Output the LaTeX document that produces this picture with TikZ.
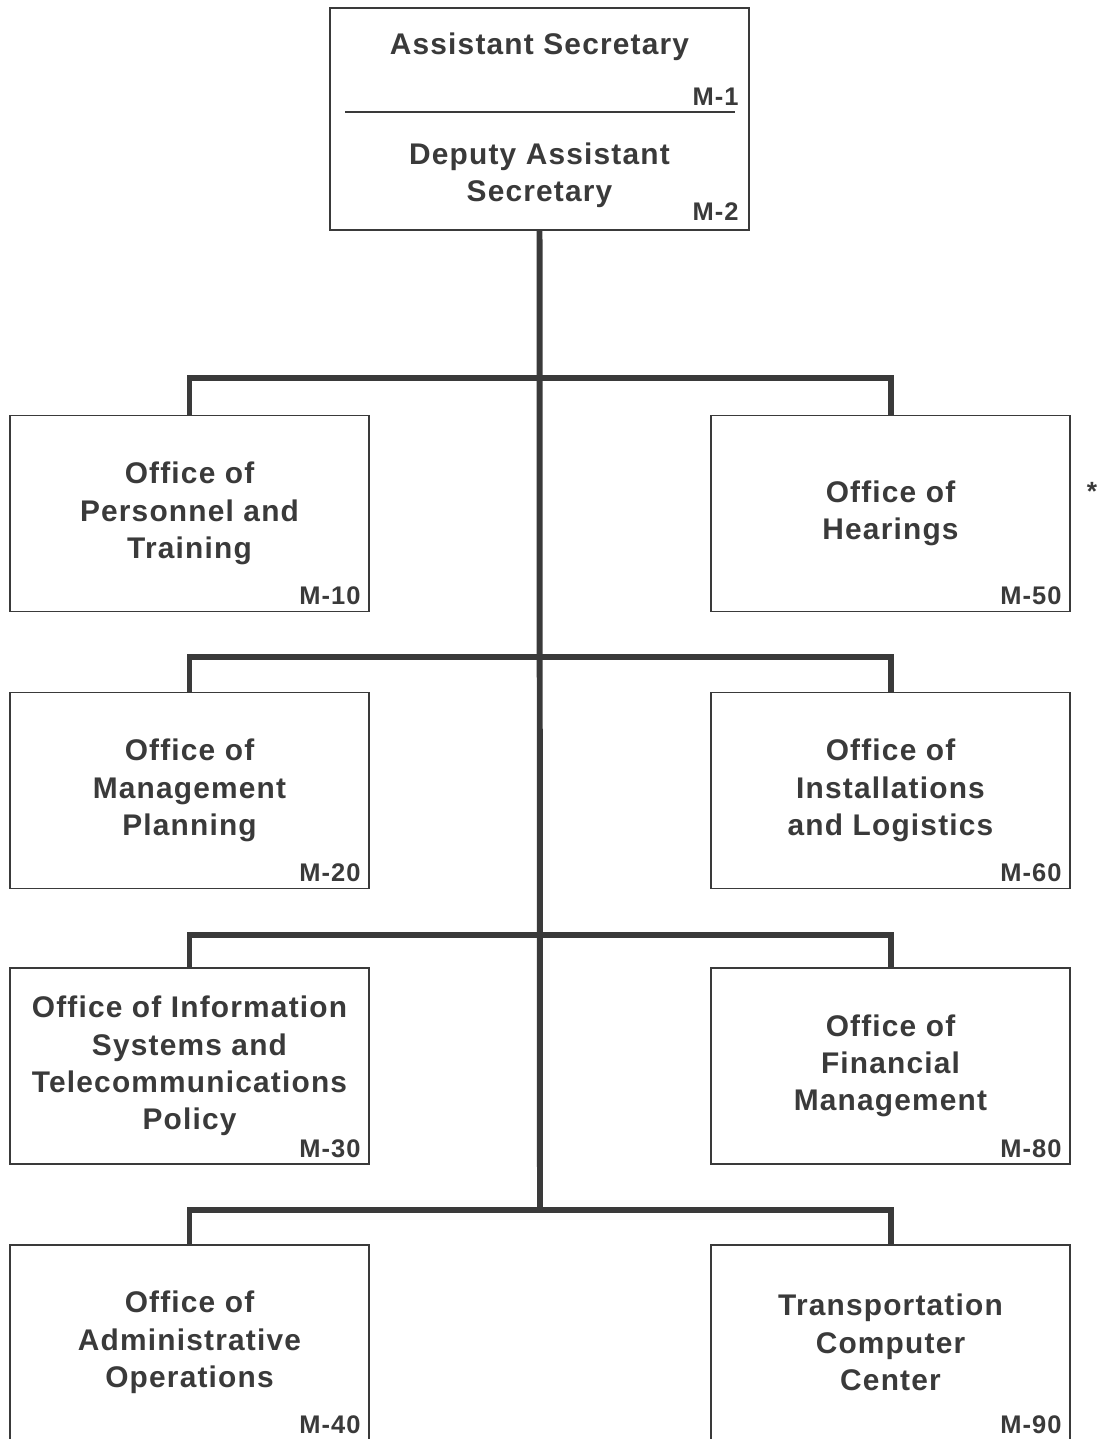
\documentclass[tikz,border=0pt]{standalone}
\usepackage{fontspec}
\setmainfont{Liberation Sans}[LetterSpace=4]
\definecolor{ink}{HTML}{3A3A3A}
\tikzset{
  office/.style={draw=ink,line width=1.1pt,minimum width=7.18cm,minimum height=3.92cm,
    align=center,text=ink,font=\fontsize{17}{21.2}\selectfont\bfseries},
  code/.style={anchor=south east,inner sep=0pt,text=ink,font=\fontsize{14.5}{16}\selectfont\bfseries},
  trunk/.style={draw=ink,line width=3.4pt}
}
\begin{document}
\begin{tikzpicture}[x=0.02cm,y=-0.02cm]
\useasboundingbox (0,0) rectangle (1098,1439);
\clip (0,0) rectangle (1098,1439);
% head of the office
\node[draw=ink,line width=1.1pt,minimum width=8.38cm,minimum height=4.44cm] (m1) at (539.5,119){};
\node[text=ink,font=\fontsize{17}{21.2}\selectfont\bfseries] (as) at (539.5,47){Assistant Secretary};
\node[text=ink,font=\fontsize{17}{21.2}\selectfont\bfseries,align=center] (das) at (539.5,175){Deputy Assistant\\Secretary};
\draw[ink,line width=1.1pt] (345,112)--(735,112);
\node[code] (c1) at (739,106){M-1};
\node[code] (c2) at (739,221){M-2};
% offices, left and right
\node[office] (m10) at (189.5,513.5){Office of\\Personnel and\\Training};
\node[office] (m50) at (890.5,513.5){Office of\\Hearings};
\node[office] (m20) at (189.5,790.5){Office of\\Management\\Planning};
\node[office] (m60) at (890.5,790.5){Office of\\Installations\\and Logistics};
\node[office] (m30) at (189.5,1066){Office of Information\\Systems and\\Telecommunications\\Policy};
\node[office] (m80) at (890.5,1066){Office of\\Financial\\Management};
\node[office] (m40) at (189.5,1342.5){Office of\\Administrative\\Operations};
\node[office] (m90) at (890.5,1342.5){Transportation\\Computer\\Center};
\foreach \n in {10,20,30,40,50,60,80,90}
  \node[code] at ([shift={(-9,-7)}]m\n.south east){M-\n};
\node[text=ink,font=\fontsize{15}{15}\selectfont\bfseries] (star) at (1092,491){*};
% connectors
\coordinate (j1) at (540,378);
\coordinate (j2) at (540,657);
\coordinate (j3) at (540,935);
\coordinate (j4) at (540,1210);
\draw[trunk] (m1.south)--(j4);
\draw[trunk] (m10.north) |- (j1) -| (m50.north);
\draw[trunk] (m20.north) |- (j2) -| (m60.north);
\draw[trunk] (m30.north) |- (j3) -| (m80.north);
\draw[trunk] (m40.north) |- (j4) -| (m90.north);
\end{tikzpicture}
\end{document}
